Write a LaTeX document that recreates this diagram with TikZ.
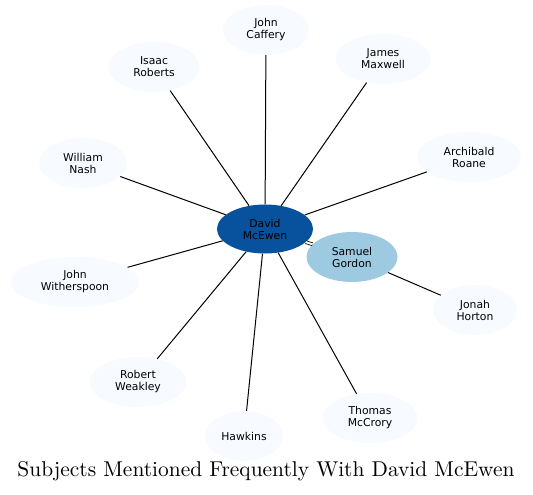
\documentclass[tikz,border=0pt]{standalone}
\usepackage{fontspec}
\newfontfamily\labelfont{DejaVu Sans}
\usetikzlibrary{shapes.geometric}
\definecolor{centreblue}{HTML}{08519C}
\definecolor{nearblue}{HTML}{9ECAE1}
\definecolor{paleblue}{HTML}{F7FBFF}
\begin{document}
\begin{tikzpicture}[x=1pt,y=-1pt,
		person/.style={ellipse,fill=paleblue,inner sep=0pt,minimum height=50pt,align=center,
			font=\labelfont\fontsize{10.8}{12}\selectfont},
		link/.style={line width=1pt}]

		\useasboundingbox (0,0) rectangle (533,495);

		\node[person,fill=centreblue,minimum width=96pt,minimum height=49pt] (mcewen) at (265,229) {David\\McEwen};
		\node[person,fill=nearblue,minimum width=91pt] (gordon) at (352,257) {Samuel\\Gordon};

		\node[person,minimum width=86pt]  (caffery)     at (266,30)  {John\\Caffery};
		\node[person,minimum width=91pt]  (roberts)     at (154,67)  {Isaac\\Roberts};
		\node[person,minimum width=95pt]  (maxwell)     at (383,59)  {James\\Maxwell};
		\node[person,minimum width=88pt]  (nash)        at (83,163)  {William\\Nash};
		\node[person,minimum width=104pt] (roane)       at (469,157) {Archibald\\Roane};
		\node[person,minimum width=129pt] (witherspoon) at (75,282)  {John\\Witherspoon};
		\node[person,minimum width=84pt]  (horton)      at (475,310) {Jonah\\Horton};
		\node[person,minimum width=97pt]  (weakley)     at (138,382) {Robert\\Weakley};
		\node[person,minimum width=78pt]  (hawkins)     at (244,436) {Hawkins};
		\node[person,minimum width=95pt]  (mccrory)     at (370,418) {Thomas\\McCrory};

		\draw[link] (mcewen) -- (caffery);
		\draw[link] (mcewen) -- (roberts);
		\draw[link] (mcewen) -- (maxwell);
		\draw[link] (mcewen) -- (nash);
		\draw[link] (mcewen) -- (roane);
		\draw[link] (mcewen) -- (witherspoon);
		\draw[link] (mcewen) -- (weakley);
		\draw[link] (mcewen) -- (hawkins);
		\draw[link] (mcewen) -- (mccrory);
		\draw[link,double,double distance=2pt,line width=0.8pt] (mcewen) -- (gordon);
		\draw[link] (gordon) -- (horton);

		\node[anchor=base] (title) at (266,476)
			{\resizebox{497pt}{!}{Subjects Mentioned Frequently With David McEwen}};
	\end{tikzpicture}
\end{document}
